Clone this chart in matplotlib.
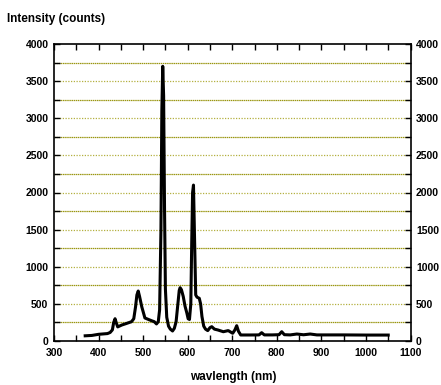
import numpy as np
import matplotlib.pyplot as plt
from matplotlib.ticker import MultipleLocator

plt.rcParams['font.family'] = ['Liberation Sans', 'DejaVu Sans']
plt.rcParams['font.weight'] = 'bold'

# spectrum
wavelength = [370, 385, 400, 410, 420, 426, 431, 434, 437, 440, 443, 452, 462, 474, 479,
              483, 486, 489, 492, 497, 504, 512, 519, 525, 530, 534, 537, 540, 542, 544,
              546, 548, 550, 553, 557, 561, 566, 570, 574, 578, 581, 583, 586, 590, 594,
              598, 601, 604, 607, 609, 611, 613, 615, 618, 621, 626, 629, 632, 636, 640,
              645, 650, 654, 660, 668, 680, 691, 701, 706, 710, 714, 719, 740, 760, 766,
              772, 790, 805, 811, 817, 830, 845, 860, 875, 890, 950, 1000, 1030, 1050]
intensity = [70, 75, 90, 95, 100, 115, 150, 250, 300, 240, 190, 215, 235, 260, 300,
             460, 620, 673, 600, 460, 310, 290, 273, 260, 230, 260, 420, 1500, 3100, 3700,
             3300, 1800, 700, 320, 200, 160, 135, 170, 260, 500, 680, 718, 690, 600, 470,
             380, 300, 290, 500, 1300, 2000, 2100, 1500, 620, 590, 575, 500, 330, 200, 160,
             140, 180, 193, 160, 148, 125, 140, 104, 150, 206, 130, 81, 81, 82, 112,
             82, 82, 85, 125, 85, 82, 94, 84, 94, 82, 82, 80, 80, 80]

grid_major = [500, 1000, 1500, 2000, 2500, 3000, 3500]
grid_minor = [250, 750, 1250, 1750, 2250, 2750, 3250, 3750]

fig = plt.figure(figsize=(4.41, 3.85), dpi=100)
ax = fig.add_axes([54 / 441, 1 - 341 / 385, 356.5 / 441, 297 / 385])

for g in grid_minor:
    ax.axhline(g, color='#9a9612', lw=0.9, ls=(0, (1.2, 0.5)), zorder=1)
for g in grid_major:
    ax.axhline(g, color='#b4b040', lw=0.9, ls=(0, (1, 1.2)), zorder=1)

ax.plot(wavelength, intensity, color='black', lw=2.2, zorder=3)

ax.set_xlim(300, 1100)
ax.set_ylim(0, 4000)
ax.xaxis.set_major_locator(MultipleLocator(100))
ax.xaxis.set_minor_locator(MultipleLocator(50))
ax.yaxis.set_major_locator(MultipleLocator(500))
ax.yaxis.set_minor_locator(MultipleLocator(250))
ax.tick_params(which='both', direction='in', top=True, right=True,
               labelright=True, labelsize=7.5, width=1, length=4)
ax.tick_params(axis='x', pad=5)
ax.tick_params(axis='y', pad=4)
for s in ax.spines.values():
    s.set_linewidth(1.2)
for lab in ax.get_xticklabels() + ax.get_yticklabels():
    lab.set_fontweight('bold')

fig.text(233 / 441, 1 - 377 / 385, 'wavlength (nm)', fontsize=8.5,
         fontweight='bold', va='center', ha='center')
fig.text(7 / 441, 1 - 19 / 385, 'Intensity (counts)', fontsize=8.5,
         fontweight='bold', va='center', ha='left')

fig.savefig('out.png', dpi=100)
